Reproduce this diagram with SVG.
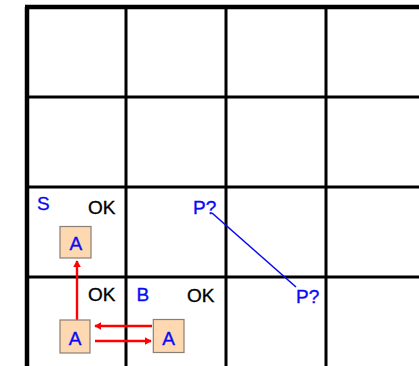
<svg xmlns="http://www.w3.org/2000/svg" width="419" height="366" viewBox="0 0 419 366">
<defs>
<style>
.grid{stroke:#000;fill:none}
.t{font-family:"Liberation Sans",Arial,sans-serif;font-size:19px;stroke-width:0.35}
.blue{fill:#0a0af5;stroke:#0a0af5}
.blk{fill:#000;stroke:#000}
.box{fill:#fdd8b0;stroke:#8a7f75;stroke-width:1.2}
.ar{stroke:#f00;stroke-width:2.4;fill:none}
</style>
<marker id="ah" viewBox="0 0 10 10" refX="9" refY="5" markerWidth="3" markerHeight="3.4" preserveAspectRatio="none" orient="auto" markerUnits="strokeWidth">
<path d="M0,0 L10,5 L0,10 z" fill="#f00"/>
</marker>
</defs>
<rect width="419" height="366" fill="#fff"/>
<g id="grid">
<line class="grid" x1="27" y1="7" x2="27" y2="366" stroke-width="4.5"/>
<line class="grid" x1="25" y1="7" x2="419" y2="7" stroke-width="4.5"/>
<line class="grid" x1="126" y1="7" x2="126" y2="366" stroke-width="3"/>
<line class="grid" x1="226" y1="7" x2="226" y2="366" stroke-width="3"/>
<line class="grid" x1="326" y1="7" x2="326" y2="366" stroke-width="3"/>
<line class="grid" x1="27" y1="97" x2="419" y2="97" stroke-width="3"/>
<line class="grid" x1="27" y1="187" x2="419" y2="187" stroke-width="3"/>
<line class="grid" x1="27" y1="277" x2="419" y2="277" stroke-width="3"/>
</g>
<g id="labels">
<text class="t blue" x="37" y="210" font-size="17">S</text>
<text class="t blk" x="88" y="213.5">OK</text>
<text class="t blue" x="193" y="213.5">P?</text>
<text class="t blk" x="88" y="301">OK</text>
<text class="t blue" x="136.5" y="300.5" font-size="17.5">B</text>
<text class="t blk" x="187" y="301.7">OK</text>
<text class="t blue" x="296" y="303">P?</text>
</g>
<g id="connectors">
<path d="M212,213 L296,287" stroke="#0a0af5" stroke-width="1.6" fill="none"/>
<line class="ar" x1="77" y1="320" x2="77" y2="261" marker-end="url(#ah)"/>
<line class="ar" x1="152" y1="326" x2="95" y2="326" marker-end="url(#ah)"/>
<line class="ar" x1="95" y1="341" x2="151" y2="341" marker-end="url(#ah)"/>
</g>
<g id="nodeA1">
<rect class="box" x="60" y="226.5" width="31" height="31.5"/>
<text class="t blue" x="75.8" y="249.5" text-anchor="middle" font-size="21">A</text>
</g>
<g id="nodeA2">
<rect class="box" x="60" y="320" width="30" height="33"/>
<text class="t blue" x="75" y="345" text-anchor="middle" font-size="21">A</text>
</g>
<g id="nodeA3">
<rect class="box" x="153.3" y="319.5" width="30.7" height="33"/>
<text class="t blue" x="168.7" y="345" text-anchor="middle" font-size="21">A</text>
</g>
</svg>
